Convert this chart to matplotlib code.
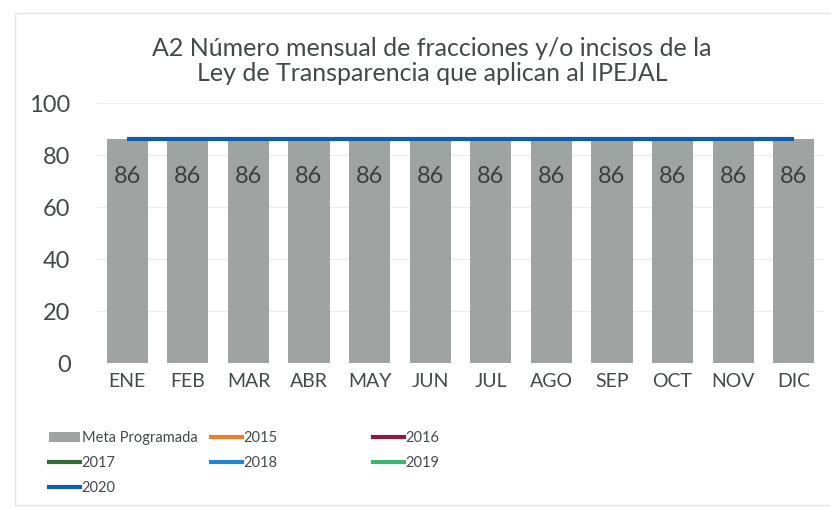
import matplotlib.pyplot as plt
from matplotlib.patches import Rectangle
from matplotlib.lines import Line2D
from matplotlib.patches import Patch

plt.rcParams.update({
    "font.family": ["Lato", "DejaVu Sans"],
    "text.color": "#44494b",
    "xtick.color": "#44494b",
    "ytick.color": "#44494b",
})

meses = ["ENE", "FEB", "MAR", "ABR", "MAY", "JUN",
         "JUL", "AGO", "SEP", "OCT", "NOV", "DIC"]
meta = [86, 86, 86, 86, 86, 86, 86, 86, 86, 86, 86, 86]
serie_2020 = [86, 86, 86, 86, 86, 86, 86, 86, 86, 86, 86, 86]

years = ["2015", "2016", "2017", "2018", "2019", "2020"]
year_colors = ["#ee7d31", "#8c1c3e", "#2f6b34", "#1f86cf", "#3cb56e", "#0f5fa6"]

fig = plt.figure(figsize=(8.31, 5.08), dpi=100)
ax = fig.add_axes([97 / 831, 1 - 363 / 508, 727 / 831, 260 / 508])

x = range(len(meses))
bars = ax.bar(x, meta, width=0.68, color="#9fa4a3", zorder=2)
ax.plot(x, serie_2020, color=year_colors[-1], lw=3, zorder=3,
        solid_capstyle="butt")
ax.bar_label(bars, labels=[str(v) for v in meta], padding=-34,
             fontsize=17, color="#3a3f41")

ax.set_ylim(0, 100)
ax.set_xlim(-0.5, 11.5)
ax.set_yticks(range(0, 101, 20))
ax.set_xticks(list(x))
ax.set_xticklabels(meses)
ax.tick_params(axis="y", length=0, pad=19, labelsize=17)
ax.tick_params(axis="x", length=0, pad=7, labelsize=14)
ax.grid(axis="y", color="#e8eded", lw=0.8, zorder=0)
for s in ax.spines.values():
    s.set_visible(False)

fig.text(0.52, 1 - 61 / 508,
         "A2 Número mensual de fracciones y/o incisos de la\n"
         "Ley de Transparencia que aplican al IPEJAL",
         ha="center", va="center", fontsize=18, linespacing=1.12)

# chart frame
fig.patches.append(Rectangle((15 / 831, 3 / 508), 1.0, 492 / 508,
                             transform=fig.transFigure, fill=False,
                             ec="#e3e6e6", lw=1))

# legend in three columns
h_meta = Patch(facecolor="#9fa4a3", edgecolor="none")
h = {y: Line2D([], [], color=c, lw=3) for y, c in zip(years, year_colors)}
cols = [
    ([h_meta, h["2017"], h["2020"]], ["Meta Programada", "2017", "2020"], 49),
    ([h["2015"], h["2018"]], ["2015", "2018"], 211),
    ([h["2016"], h["2019"]], ["2016", "2019"], 373),
]
for handles, labels, px in cols:
    leg = fig.legend(handles, labels, loc="upper left",
                     bbox_to_anchor=(px / 831, 1 - 431 / 508),
                     frameon=False, fontsize=10.5, handlelength=2.1,
                     handletextpad=0.15, labelspacing=0.75,
                     borderaxespad=0, borderpad=0)

fig.savefig("out.png", dpi=100)
